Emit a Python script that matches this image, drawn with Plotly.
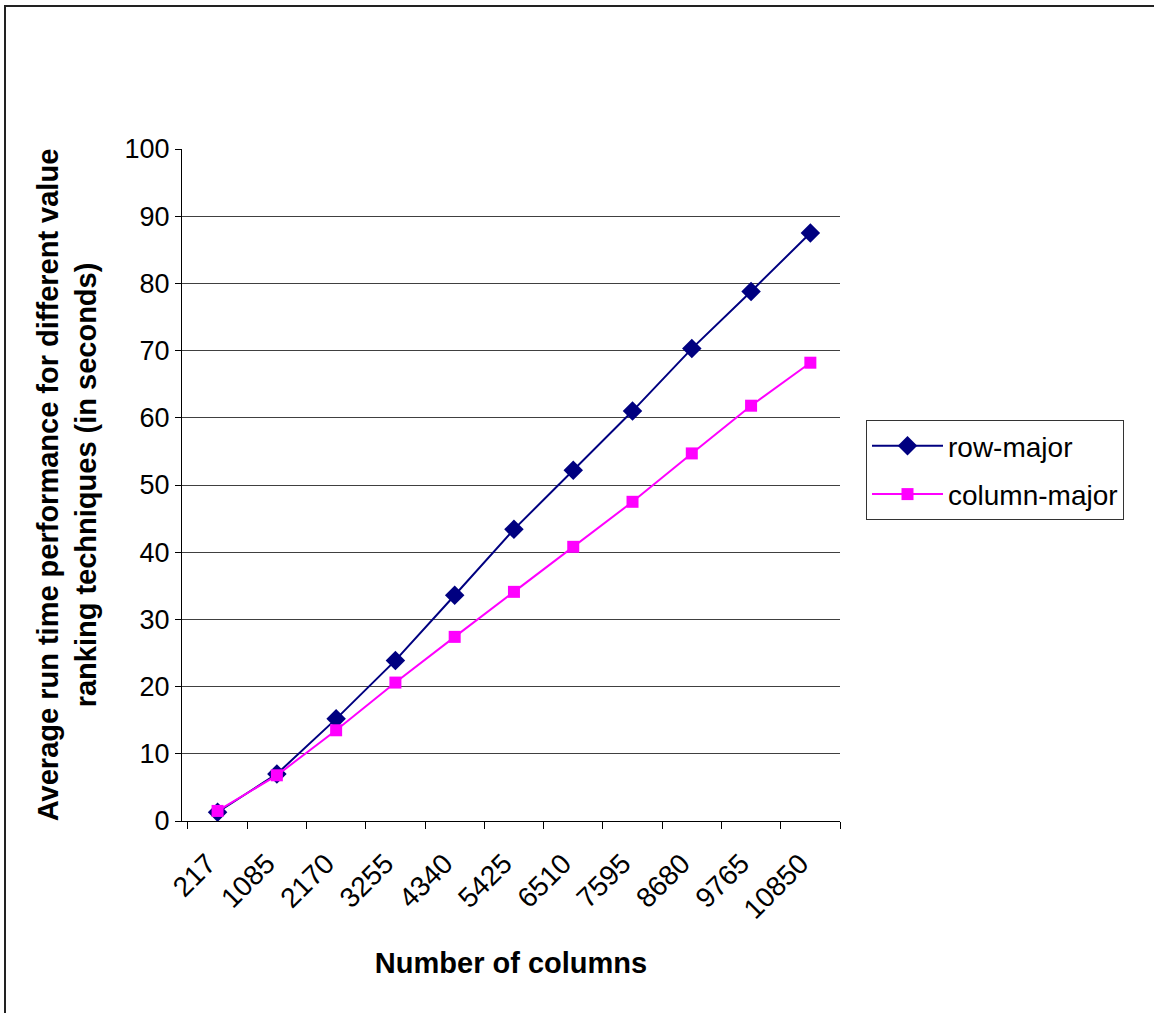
import plotly.graph_objects as go

categories = ["217", "1085", "2170", "3255", "4340", "5425", "6510", "7595", "8680", "9765", "10850"]
row_major = [1.3, 7.0, 15.2, 23.9, 33.6, 43.4, 52.2, 61.0, 70.3, 78.8, 87.5]
column_major = [1.5, 6.8, 13.5, 20.6, 27.4, 34.1, 40.8, 47.5, 54.7, 61.8, 68.2]

FONT = "Liberation Sans, Arial, sans-serif"
W, H = 1154, 1013
L, R, T, B = 182, 314, 149, 192
pw, ph = W - L - R, H - T - B

fig = go.Figure()
fig.add_trace(go.Scatter(
    x=categories, y=row_major, name="row-major", mode="lines+markers",
    legendgroup="a",
    line=dict(color="#000080", width=2),
    marker=dict(symbol="diamond", size=15, color="#000080"),
))
fig.add_trace(go.Scatter(
    x=categories, y=column_major, name="column-major", mode="lines+markers",
    legendgroup="b",
    line=dict(color="#FF00FF", width=2),
    marker=dict(symbol="square", size=12, color="#FF00FF"),
))

fig.update_layout(
    width=W, height=H,
    margin=dict(l=L, r=R, t=T, b=B, autoexpand=False),
    paper_bgcolor="white", plot_bgcolor="white",
    font=dict(family=FONT, color="black", size=28),
    showlegend=True,
    legend=dict(
        x=(866 - L) / pw, y=(H - B - 420) / ph, xanchor="left", yanchor="top",
        bordercolor="#333333", borderwidth=1, bgcolor="white",
        font=dict(size=28, family=FONT), tracegroupgap=9,
        itemwidth=71,
    ),
    xaxis=dict(
        type="category", tickson="boundaries", ticks="outside", ticklen=7,
        range=[-0.6, 10.5],
        tickcolor="black", tickangle=-45, showline=True, linecolor="black",
        linewidth=1, showgrid=False, zeroline=False,
        tickfont=dict(size=28, family=FONT),
        ticklabelstandoff=14, ticklabelshift=-10,
        title=dict(text="<b>Number of columns</b>", font=dict(size=29, family=FONT), standoff=28),
        automargin=False,
    ),
    yaxis=dict(
        range=[0, 100], dtick=10, tick0=0, ticks="outside", ticklen=6,
        tickcolor="black", showline=True, linecolor="black", linewidth=1,
        showgrid=True, gridcolor="#404040", gridwidth=1, zeroline=False,
        tickfont=dict(size=27, family=FONT),
        title=dict(text="<b>Average run time performance for different value<br>ranking techniques (in seconds)</b>",
                   font=dict(size=29, family=FONT), standoff=19),
        automargin=False,
    ),
)

# outer chart border
fig.add_shape(
    type="rect", xref="paper", yref="paper",
    x0=(5 - L) / pw, x1=(W + 20 - L) / pw,
    y0=(H - B - (H + 20)) / ph, y1=(H - B - 6) / ph,
    line=dict(color="#222222", width=2), fillcolor="rgba(0,0,0,0)", layer="below",
)

fig.write_html("out.html", config={"displayModeBar": False},
               post_script="document.body.style.margin='0';")
